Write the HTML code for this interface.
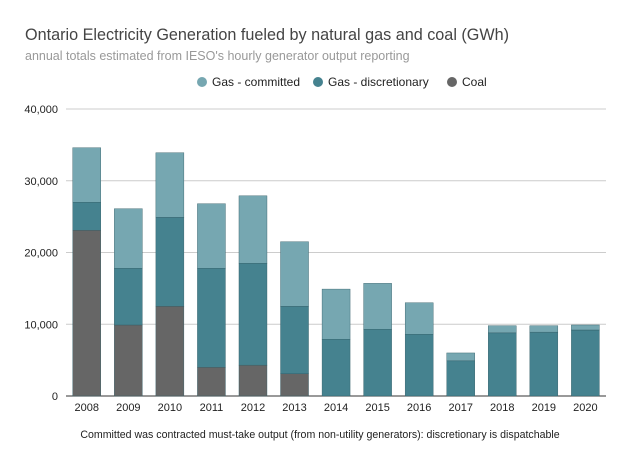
<!DOCTYPE html>
<html><head><meta charset="utf-8"><style>
body{margin:0;background:#fff;font-family:"Liberation Sans",sans-serif}
</style></head><body>
<svg width="640" height="461" xmlns="http://www.w3.org/2000/svg" font-family="Liberation Sans, sans-serif">
<rect width="640" height="461" fill="#fff"/>
<text x="25" y="40" font-size="16.2" fill="#444">Ontario Electricity Generation fueled by natural gas and coal (GWh)</text>
<text x="25" y="60" font-size="12.5" fill="#999">annual totals estimated from IESO's hourly generator output reporting</text>
<g font-size="12" fill="#222">
<g><circle cx="202" cy="82" r="5" fill="#76a7b1"/><text x="212" y="86">Gas - committed</text></g>
<g><circle cx="318" cy="82" r="5" fill="#45828f"/><text x="328" y="86">Gas - discretionary</text></g>
<g><circle cx="452" cy="82" r="5" fill="#666"/><text x="462" y="86">Coal</text></g>
</g>
<g id="grid"></g><g id="bars"></g><g id="xl"></g>
<text x="320" y="438" font-size="10.6" fill="#222" text-anchor="middle">Committed was contracted must-take output (from non-utility generators): discretionary is dispatchable</text>
</svg>
<script>
const years=["2008","2009","2010","2011","2012","2013","2014","2015","2016","2017","2018","2019","2020"];
const coal=[23100,9900,12500,4000,4300,3100,0,0,0,0,0,0,0];
const discretionary=[3900,7900,12400,13800,14200,9400,7900,9300,8600,4900,8800,8900,9200];
const committed=[7600,8300,9000,9000,9400,9000,7000,6400,4400,1100,1000,900,700];
const yTicks=[0,10000,20000,30000,40000];
const ns="http://www.w3.org/2000/svg";
const y0=396,yTop=109,yMax=40000,x0=66,step=41.55,bw=28;
const Y=v=>y0-(v/yMax)*(y0-yTop);
const X=i=>x0+step*i+step/2;
function el(t,a,p){const e=document.createElementNS(ns,t);for(const k in a)e.setAttribute(k,a[k]);document.getElementById(p).appendChild(e);return e;}
yTicks.forEach(v=>{
 const l=el("line",{x1:x0,x2:606,y1:Y(v),y2:Y(v),stroke:v===0?"#333":"#ccc","stroke-width":1},"grid");
 
 
 const t=el("text",{x:x0-8,y:Y(v)+4,"font-size":11,fill:"#222","text-anchor":"end"},"grid");
 t.textContent=v.toLocaleString("en-US");
 
 
});
years.forEach((yr,i)=>{
 const segs=[[coal[i],"#666","coal"],[discretionary[i],"#45828f","discretionary"],[committed[i],"#76a7b1","committed"]];
 let base=0;
 segs.forEach(s=>{
  if(s[0]>0){
   const r=el("rect",{x:X(i)-bw/2,y:Y(base+s[0]),width:bw,height:Y(base)-Y(base+s[0]),fill:s[1],stroke:"#2f5a63","stroke-width":0.4},"bars");
   
   
  }
  base+=s[0];
 });
 const t=el("text",{x:X(i),y:411,"font-size":11,fill:"#222","text-anchor":"middle"},"xl");
 t.textContent=yr;
 
 
});
</script>
</body></html>
